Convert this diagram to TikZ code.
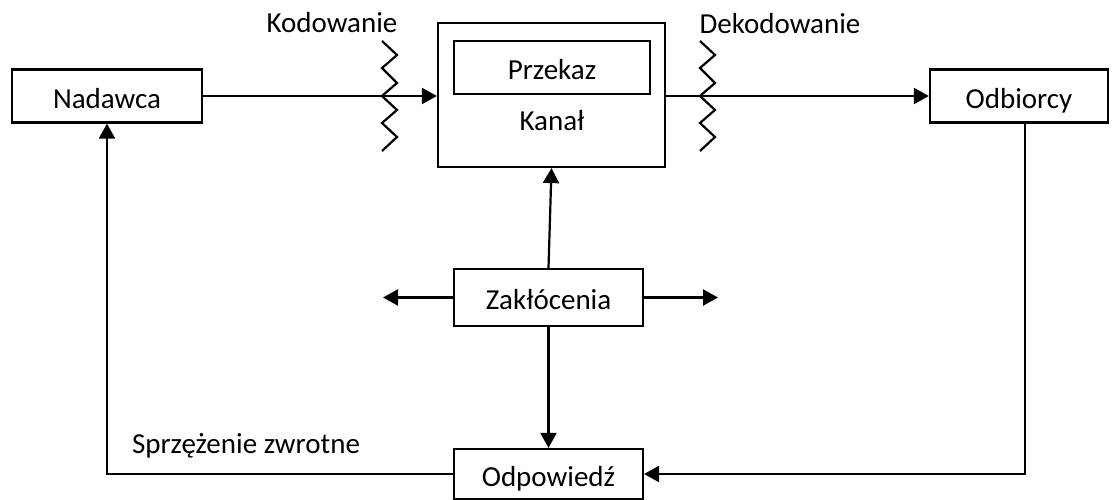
\documentclass[tikz,border=0pt]{standalone}
\usepackage{fontspec}
\setmainfont{Carlito}
\usetikzlibrary{arrows.meta}
\begin{document}
\begin{tikzpicture}[x=1pt,y=-1pt, line width=2.2pt,
  txt/.style={font=\fontsize{29}{34}\selectfont, inner sep=0pt, text height=25pt, text depth=0.3pt},
  box/.style={draw, rectangle, inner sep=0pt, txt},
  arr/.style={-{Triangle[length=15pt,width=16pt]}},
  zig/.style={line width=2.2pt, line join=miter}]
\useasboundingbox (0,0) rectangle (1112,500);
% boxes
\node[box, minimum width=190pt, minimum height=53pt] (nad) at (107,96) {Nadawca};
\node[box, minimum width=178pt, minimum height=53pt] (odb) at (1019,96) {Odbiorcy};
\node[box, minimum width=227pt, minimum height=144pt] (kan) at (551.5,95) {};
\node[box, minimum width=196pt, minimum height=53pt] (prz) at (552,67.5) {Przekaz};
\node[txt] (kantxt) at (552,118.5) {Kanał};
\node[box, minimum width=189pt, minimum height=57pt] (zak) at (548.5,297.5) {Zakłócenia};
\node[box, minimum width=189pt, minimum height=50pt] (odp) at (548.5,474) {Odpowiedź};
% labels
\node[txt] (kod) at (332,20.5) {Kodowanie};
\node[txt] (dek) at (780,21.5) {Dekodowanie};
\node[txt] (sprz) at (246,441) {Sprzężenie zwrotne};
% free ends
\coordinate (zl) at (383,297.5);
\coordinate (zr) at (718,297.5);
% connectors
\draw[arr] (nad.east) -- (nad.east -| kan.west);
\draw[arr] (kan.east |- odb.west) -- (odb.west);
\draw[arr] (zak.north) -- (kan.south);
\draw[arr] (zak.south) -- (odp.north);
\draw[arr] (zak.west) -- (zl);
\draw[arr] (zak.east) -- (zr);
\draw[arr] (odb.south -| 1025,0) |- (odp.east);
\draw[arr] (odp.west) -| (nad.south);
% zigzags
\draw[zig] (382,41) -- (397,55) -- (382,68) -- (397,83) -- (382,96) -- (397,110) -- (382,123) -- (397,137) -- (382,151);
\draw[zig] (700,41) -- (715,55) -- (700,68) -- (715,83) -- (700,96) -- (715,110) -- (700,123) -- (715,137) -- (700,151);
\end{tikzpicture}
\end{document}
